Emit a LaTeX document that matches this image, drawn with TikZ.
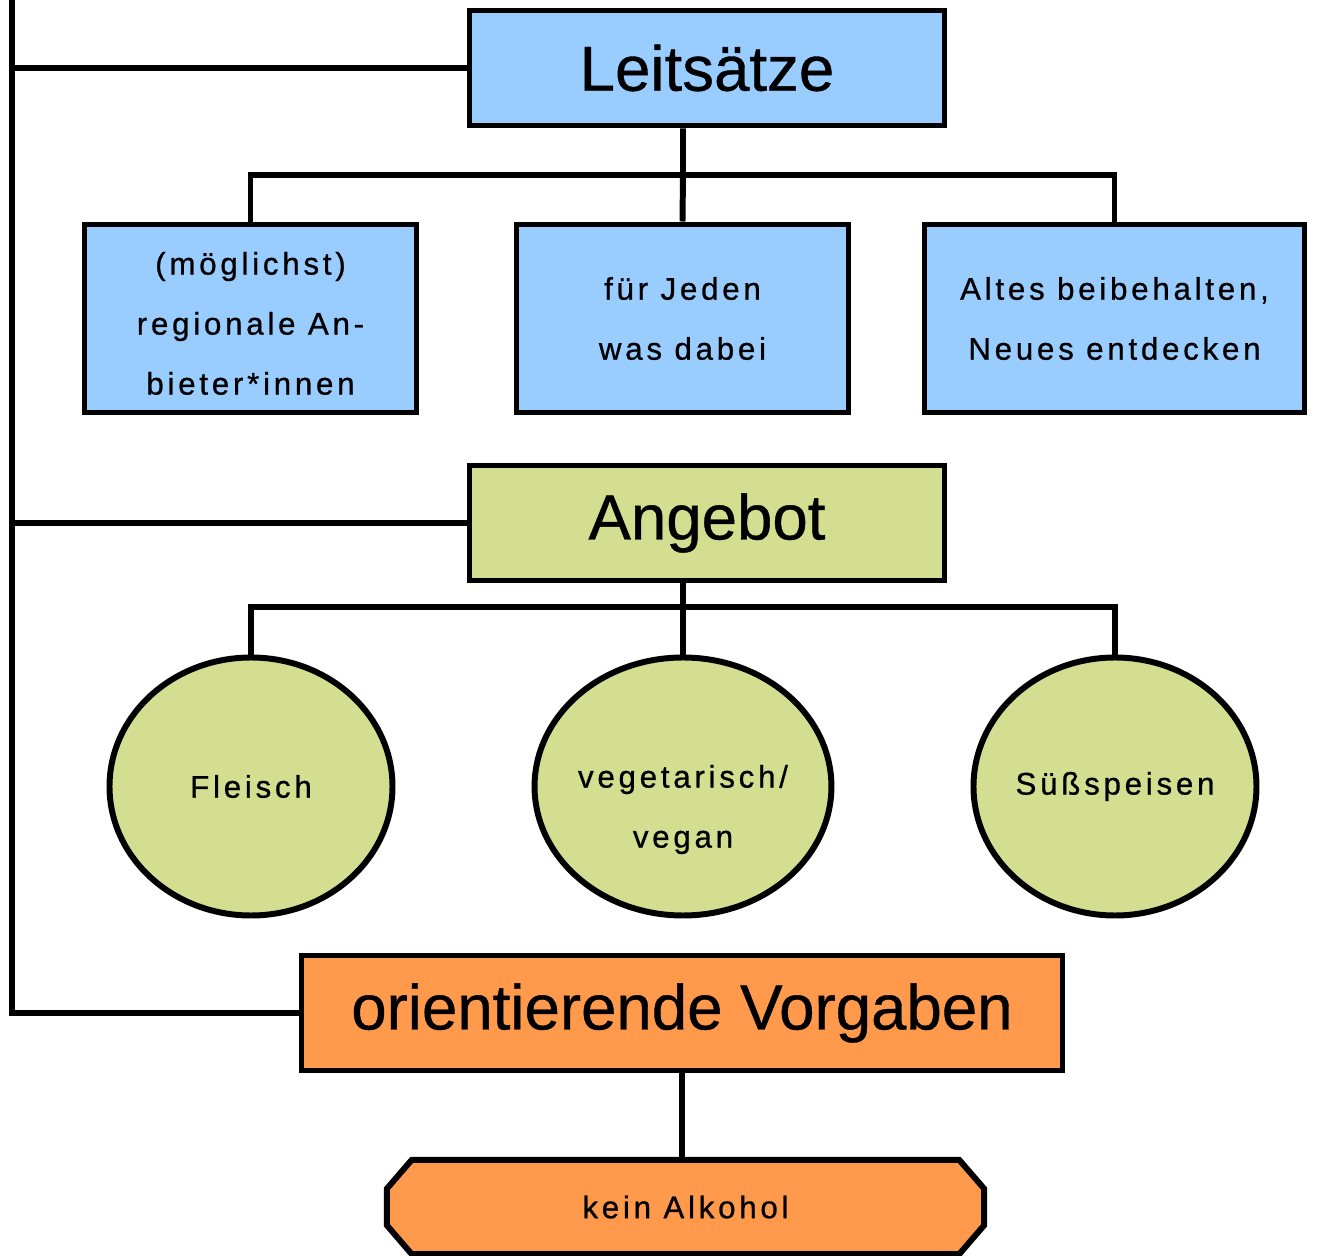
\documentclass[tikz,border=0pt]{standalone}
\usepackage{fontspec}
\setmainfont{Liberation Sans}[FakeBold=0.6]
\newfontfamily\widefont[LetterSpace=12,FakeBold=0.8]{Liberation Sans}
\usepackage{tikz}
\usetikzlibrary{positioning,shapes.geometric,backgrounds}
\definecolor{leadblue}{HTML}{99CCFF}
\definecolor{offergreen}{HTML}{D4DE90}
\definecolor{rulesorange}{HTML}{FF994C}
% lowered block of centred lines
\newcommand{\lowlines}[2]{\raisebox{#1}[0pt][0pt]{\begin{tabular}{@{}c@{}}#2\end{tabular}}}

\begin{document}
\begin{tikzpicture}[
  head/.style={draw, line width=1.7pt, minimum width=4.75cm, minimum height=1.15cm, inner sep=0pt, font=\fontsize{18.1}{21}\selectfont},
  leaf/.style={draw, line width=1.7pt, fill=leadblue, minimum height=1.88cm, inner sep=0pt, align=center, font=\widefont\fontsize{8.9}{17.07}\selectfont},
  dish/.style={ellipse, draw, line width=1.7pt, fill=offergreen, minimum width=2.83cm, minimum height=2.58cm, inner sep=0pt, align=center, font=\widefont\fontsize{8.9}{17.07}\selectfont},
  link/.style={line width=1.7pt}]
\useasboundingbox (0,0) rectangle (13.18,-12.56);
% main blocks
\node[head, fill=leadblue] (lead) at (7.07,-0.68) {Leitsätze};
\node[head, fill=offergreen] (offer) at (7.07,-5.23) {Angebot};
\node[head, fill=rulesorange, minimum width=7.61cm] (rules) at (6.82,-10.13) {orientierende Vorgaben};
% leitsaetze
\node[leaf, minimum width=3.32cm] (regio) at (2.505,-3.185) {\lowlines{-0.12cm}{(möglichst)\\regionale An-\\bieter*innen}};
\node[leaf, minimum width=3.32cm] (all) at (6.825,-3.185) {für Jeden\\was dabei};
\node[leaf, minimum width=3.80cm] (oldnew) at (11.145,-3.185) {Altes beibehalten,\\Neues entdecken};
% angebot
\node[dish] (meat) at (2.51,-7.865) {Fleisch};
\node[dish] (veg) at (6.83,-7.865) {\lowlines{-0.27cm}{vegetarisch/\\vegan}};
\node[dish] (sweet) at (11.15,-7.865) {Süßspeisen};
% vorgaben
\node[minimum width=5.96cm, minimum height=0.93cm, inner sep=0pt, font=\widefont\fontsize{8.9}{17.07}\selectfont] (noalc) at (6.855,-12.07) {kein Alkohol};
\begin{pgfonlayer}{background}
\draw[link, fill=rulesorange] ([xshift=0.25cm]noalc.north west) -- ([xshift=-0.25cm]noalc.north east) -- ([yshift=-0.29cm]noalc.north east) -- ([yshift=0.29cm]noalc.south east) -- ([xshift=-0.25cm]noalc.south east) -- ([xshift=0.25cm]noalc.south west) -- ([yshift=0.29cm]noalc.south west) -- ([yshift=-0.29cm]noalc.north west) -- cycle;
\end{pgfonlayer}
% connectors
\coordinate (top) at (0.12,0);
\draw[link] (top) |- (rules.west);
\draw[link] (top |- lead.west) -- (lead.west);
\draw[link] (top |- offer.west) -- (offer.west);
\coordinate (lbar) at (6.83,-1.75);
\draw[link] (lbar |- lead.south) -- (lbar) -- (all.north);
\draw[link] (regio.north) -- (regio.north |- lbar) -- (oldnew.north |- lbar) -- (oldnew.north);
\coordinate (obar) at (6.83,-6.07);
\draw[link] (obar |- offer.south) -- (obar) -- (veg.north);
\draw[link] (meat.north) -- (meat.north |- obar) -- (sweet.north |- obar) -- (sweet.north);
\draw[link] (rules.south) -- (rules.south |- noalc.north);
\end{tikzpicture}
\end{document}
